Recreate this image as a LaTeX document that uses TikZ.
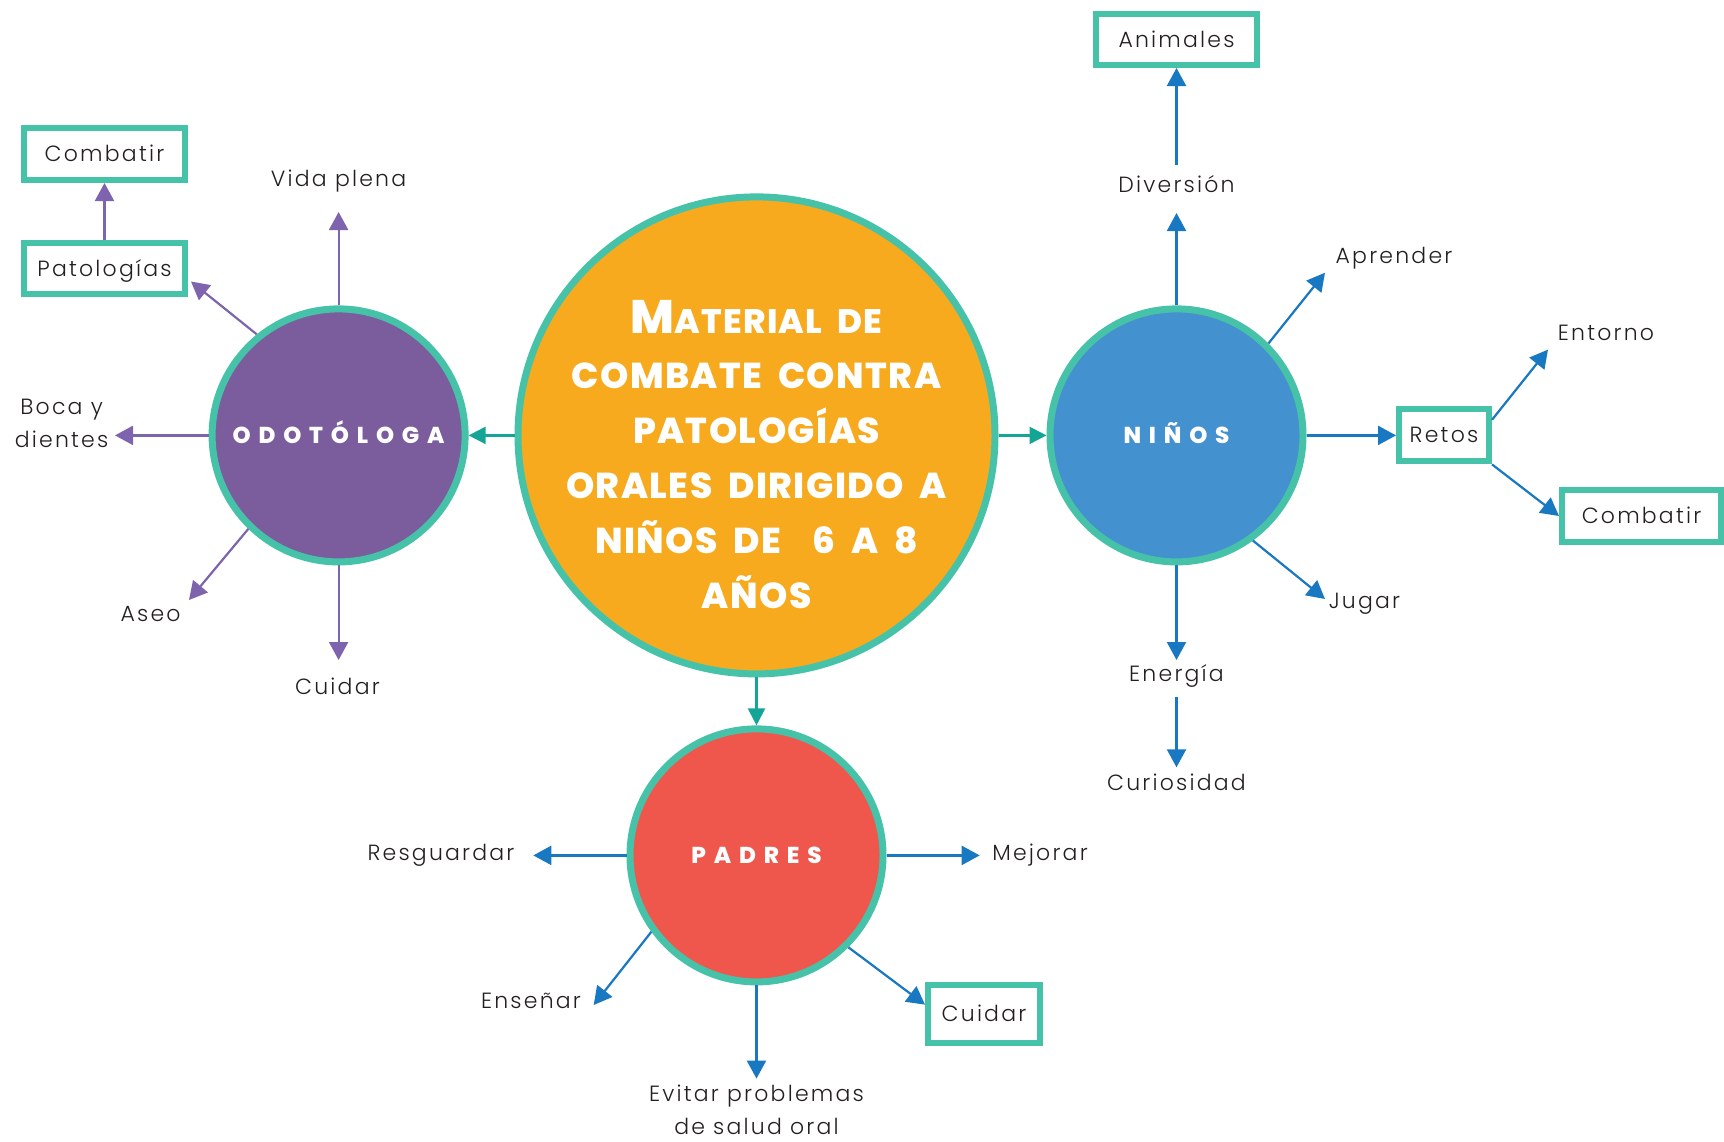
\documentclass[tikz,border=0pt]{standalone}
\usepackage{fontspec}
\setmainfont{Poppins}
\newfontfamily\labelfont{Poppins Light}[LetterSpace=10]
\newfontfamily\headfont{Poppins ExtraBold}[LetterSpace=4,WordSpace=1.9]
\newfontfamily\ringfont{Poppins ExtraBold}[LetterSpace=34]
\usetikzlibrary{arrows.meta}

\definecolor{ringteal}{HTML}{46C2A9}
\definecolor{linkteal}{HTML}{14A597}
\definecolor{hubfill}{HTML}{F8AA1E}
\definecolor{odofill}{HTML}{7B5C9C}
\definecolor{ninfill}{HTML}{4391CE}
\definecolor{padfill}{HTML}{EF574D}
\definecolor{purplelink}{HTML}{7E63AE}
\definecolor{bluelink}{HTML}{1878C1}
\definecolor{ink}{HTML}{231F20}

\tikzset{
  hub/.style={circle, draw=ringteal, line width=7pt, fill=hubfill,
    minimum size=477pt, inner sep=0pt},
  topic/.style={circle, draw=ringteal, line width=7pt,
    minimum size=253pt, inner sep=0pt, text=white,
    font=\ringfont\fontsize{23}{23}\selectfont,
    text height=17pt, text depth=0pt},
  tag/.style={rectangle, draw=ringteal, line width=6pt, fill=white,
    inner sep=0pt, text=ink, text height=15pt, text depth=0pt,
    font=\labelfont\fontsize{22}{33}\selectfont},
  word/.style={inner sep=0pt, text=ink, text height=15pt, text depth=0pt,
    font=\labelfont\fontsize{22}{33}\selectfont},
  words/.style={inner sep=0pt, text=ink, align=center, text depth=0pt,
    font=\labelfont\fontsize{22}{33}\selectfont},
  purplearrow/.style={draw=purplelink, line width=2.2pt,
    -{Triangle[length=18pt,width=19pt]}},
  bluearrow/.style={draw=bluelink, line width=2.2pt,
    -{Triangle[length=18pt,width=19pt]}},
  tealarrow/.style={draw=linkteal, line width=2.2pt,
    -{Triangle[length=17pt,width=17pt]}},
}

\begin{document}
\begin{tikzpicture}[x=1pt,y=-1pt]
\useasboundingbox (0,0) rectangle (1724,1141);

% ---- main circles ----
\node[hub] (hub) at (756.5,435.4) {};
\node[inner sep=0pt, text=white, align=center,
      font=\headfont\fontsize{36}{55}\selectfont]
  (title) at (756.5,455) {{\fontsize{47}{55}\selectfont M}{\fontsize{34}{55}\selectfont ATERIAL DE}\\
    COMBATE CONTRA\\PATOLOGÍAS\\ORALES DIRIGIDO A\\NIÑOS DE\ \ 6 A 8\\AÑOS};

\node[topic, fill=odofill] (odo) at (338.6,435.4) {ODOTÓLOGA\hspace{-7pt}};
\node[topic, fill=ninfill] (nin) at (1176.5,435.4) {NIÑOS\hspace{-7pt}};
\node[topic, fill=padfill] (pad) at (756.5,855.4) {PADRES\hspace{-7pt}};

\draw[tealarrow] (hub.west) -- (odo.east);
\draw[tealarrow] (hub.east) -- (nin.west);
\draw[tealarrow] (hub.south) -- (pad.north);

% ---- odontologa branch ----
\node[tag, minimum width=161pt, minimum height=52pt] (combA) at (104.5,154) {Combatir};
\node[tag, minimum width=161pt, minimum height=51pt] (pato) at (104.5,268.5) {Patologías};
\node[word] (vida) at (338.6,179) {Vida plena};
\node[words] (boca) at (61.6,423.5) {Boca y\\dientes};
\node[word] (aseo) at (150.6,613.5) {Aseo};
\node[word] (cuidA) at (337.5,687) {Cuidar};

\coordinate (tVida) at (338.6,212);
\coordinate (tBoca) at (115,435.4);
\coordinate (tPato) at (191,281.5);
\coordinate (tAseo) at (189,600);
\coordinate (tCuidA) at (338.6,660);

\draw[purplearrow] (odo.north) -- (tVida);
\draw[purplearrow] (odo.west) -- (tBoca);
\draw[purplearrow] (odo.129) -- (tPato);
\draw[purplearrow] (odo.226) -- (tAseo);
\draw[purplearrow] (odo.south) -- (tCuidA);
\draw[purplearrow] (pato.north) -- (combA.south);

% ---- ninos branch ----
\node[tag, minimum width=161pt, minimum height=51pt] (anim) at (1176.5,39.5) {Animales};
\node[word] (div) at (1176.5,184.7) {Diversión};
\node[word] (apr) at (1394,256) {Aprender};
\node[tag, minimum width=90pt, minimum height=52pt] (retos) at (1444,435.4) {Retos};
\node[word] (ento) at (1606,333) {Entorno};
\node[tag, minimum width=159pt, minimum height=52pt] (combB) at (1641.5,516) {Combatir};
\node[word] (jug) at (1364.5,601) {Jugar};
\node[word] (ene) at (1176.5,674) {Energía};
\node[word] (cur) at (1176.5,783) {Curiosidad};

\coordinate (tDiv) at (1176.5,213);
\coordinate (tApr) at (1325,272.7);
\coordinate (tEnto) at (1548,349.6);
\coordinate (tJug) at (1325,599);
\coordinate (tEne) at (1176.5,660);

\draw[bluearrow] (nin.north) -- (tDiv);
\draw[bluearrow, shorten <=12pt] (anim.south |- div.north) -- (anim.south);
\draw[bluearrow] (nin.45) -- (tApr);
\draw[bluearrow] (nin.east) -- (retos.west);
\draw[bluearrow] (retos.18) -- (tEnto);
\draw[bluearrow] (retos.south east) -- (combB.west);
\draw[bluearrow] (nin.-54) -- (tJug);
\draw[bluearrow] (nin.south) -- (tEne);
\draw[bluearrow, shorten <=15pt, shorten >=8pt] (nin.south |- ene.south) -- (nin.south |- cur.north);

% ---- padres branch ----
\node[word] (resg) at (441,853) {Resguardar};
\node[word] (mej) at (1040,853) {Mejorar};
\node[word] (ens) at (531,1000.5) {Enseñar};
\node[words] (evit) at (756.5,1109.5) {Evitar problemas\\de salud oral};
\node[tag, minimum width=112pt, minimum height=58pt] (cuidB) at (984,1014) {Cuidar};

\coordinate (tResg) at (533.3,855.4);
\coordinate (tMej) at (979.7,855.4);
\coordinate (tEns) at (593.7,1005);
\coordinate (tEvit) at (756.5,1078.6);

\draw[bluearrow] (pad.west) -- (tResg);
\draw[bluearrow] (pad.east) -- (tMej);
\draw[bluearrow] (pad.216.7) -- (tEns);
\draw[bluearrow] (pad.south) -- (tEvit);
\draw[bluearrow] (pad.-45) -- (cuidB.171);
\end{tikzpicture}
\end{document}
